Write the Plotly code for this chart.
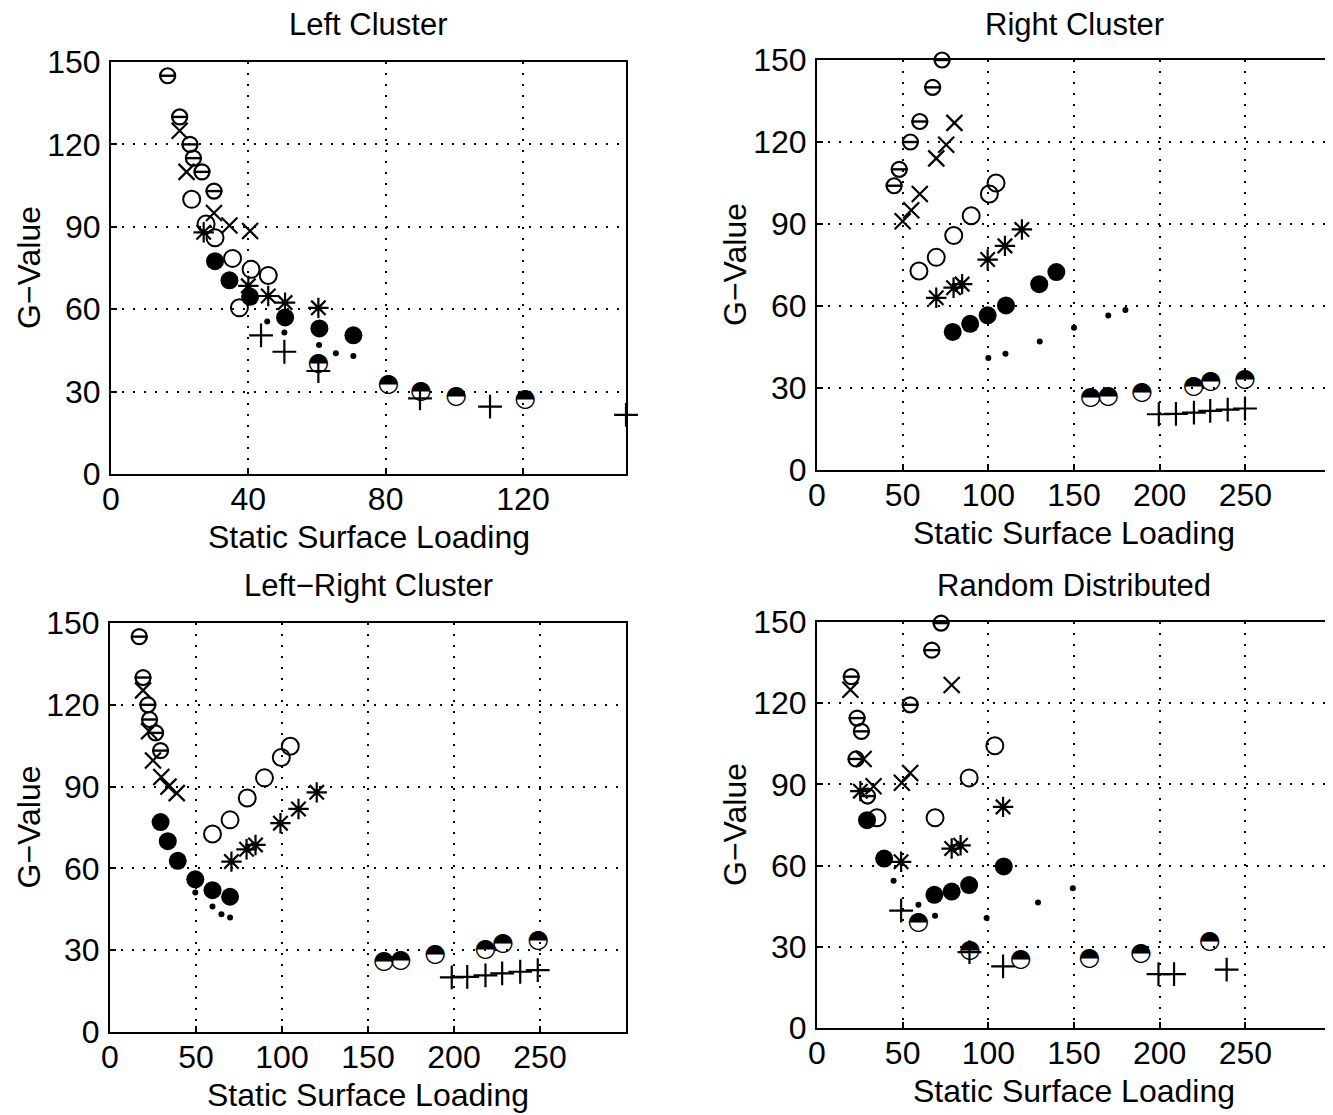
import plotly.graph_objects as go

W, H = 1333, 1115
OFF = 8  # the page body adds an 8 px margin around the figure

# ---------------- data ----------------
titles = ["Left Cluster", "Right Cluster", "Left\u2212Right Cluster", "Random Distributed"]
x_label = "Static Surface Loading"
y_label = "G\u2212Value"
x_ticks_left_cluster = [0, 40, 80, 120]
x_ticks_other = [0, 50, 100, 150, 200, 250]
y_ticks = [0, 30, 60, 90, 120, 150]

# Left Cluster
lc_theta_x = [16.5, 20, 23, 24, 26.5, 30]
lc_theta_y = [145, 130, 120, 115, 110, 103]
lc_x_x = [20, 22, 30, 34.5, 40.5]
lc_x_y = [125, 110, 95, 90.5, 88.5]
lc_open_x = [23.5, 27.7, 30.3, 35.4, 37.4, 40.8, 45.8]
lc_open_y = [100, 91, 86, 78.5, 60.5, 74.5, 72.3]
lc_star_x = [27, 40, 45.8, 50.7, 60.4]
lc_star_y = [88, 68.5, 64.8, 62.4, 60.5]
lc_fill_x = [30.3, 34.5, 40.5, 50.7, 60.7, 70.6]
lc_fill_y = [77.5, 70.5, 64.5, 57, 53, 50.5]
lc_dot_x = [45.5, 50.5, 60.6, 65.5, 70.6]
lc_dot_y = [55.5, 51.5, 47, 44, 43]
lc_plus_x = [43.7, 50.5, 60.4, 90, 110.4, 150]
lc_plus_y = [50.5, 44.5, 37.5, 27.5, 24.5, 21.5]
lc_half_x = [60.4, 80.8, 90.3, 100.5, 120.6]
lc_half_y = [40, 32.5, 30, 28, 27]

# Right Cluster
rc_theta_x = [45, 48, 54.5, 60, 67.5, 73]
rc_theta_y = [104, 110, 120, 127.5, 140, 150]
rc_x_x = [50, 55, 60, 69.6, 75.4, 80.2]
rc_x_y = [91, 95, 101, 114, 119, 127]
rc_open_x = [59.5, 69.6, 79.8, 90, 100.6, 104.5]
rc_open_y = [72.8, 77.8, 85.8, 93, 101, 105]
rc_star_x = [69.6, 79.7, 84.7, 99.6, 109.7, 119.6]
rc_star_y = [63, 66.7, 68, 77, 82, 88]
rc_fill_x = [79.2, 89.4, 99.6, 110.3, 129.7, 139.7]
rc_fill_y = [50.5, 53.5, 56.6, 60.2, 68, 72.4]
rc_dot_x = [100, 110, 130, 150, 170, 180]
rc_dot_y = [41, 42.5, 47, 52, 56.5, 58.5]
rc_plus_x = [199.5, 209.5, 220, 229.5, 239.7, 249.8]
rc_plus_y = [20.4, 20.5, 21, 21.6, 22.1, 22.5]
rc_half_x = [159.7, 170, 189.7, 219.8, 229.8, 249.8]
rc_half_y = [26.4, 26.8, 28.2, 30.4, 32.2, 33.1]

# Left-Right Cluster
lr_theta_x = [17, 19.2, 22, 23, 26.5, 29.4]
lr_theta_y = [145, 130, 120, 114.6, 109.7, 103.2]
lr_x_x = [19.2, 22.7, 25, 29.8, 34, 38.8]
lr_x_y = [125.3, 110.3, 99.6, 93.5, 90, 87.6]
lr_open_x = [59.6, 69.8, 79.8, 89.8, 99.6, 104.8]
lr_open_y = [72.6, 77.8, 85.8, 93.2, 100.7, 104.8]
lr_star_x = [70.6, 79.4, 84.6, 99.1, 109.6, 120.2]
lr_star_y = [62.5, 67, 68.6, 76.6, 81.8, 87.9]
lr_fill_x = [29.4, 33.6, 39.4, 49.6, 59.6, 69.8]
lr_fill_y = [77, 70, 62.8, 56, 52, 49.6]
lr_dot_x = [49.6, 59.6, 64.8, 69.8]
lr_dot_y = [51.2, 46, 43.2, 42]
lr_plus_x = [198.7, 207.7, 218.3, 228, 238.5, 248.7]
lr_plus_y = [20, 20.2, 20.8, 21.5, 22.1, 22.7]
lr_half_x = [159.3, 169, 189, 218.3, 228.5, 249]
lr_half_y = [25.7, 26.1, 28.2, 30, 32.5, 33.3]

# Random Distributed
rd_theta_x = [20, 23.4, 25.9, 22.8, 29.5, 54.4, 67, 72.4]
rd_theta_y = [129.8, 114.5, 109.6, 99.4, 85.7, 119.4, 139.6, 149.6]
rd_x_x = [19.5, 27.2, 33, 49.5, 54.4, 78.6]
rd_x_y = [125, 99.4, 89.3, 90.6, 94.2, 126.7]
rd_open_x = [35, 68.9, 88.8, 103.8]
rd_open_y = [77.7, 77.7, 92.4, 104.3]
rd_star_x = [25.3, 49.1, 78.6, 83.8, 108.6]
rd_star_y = [87.5, 61.4, 66.3, 67.5, 81.7]
rd_fill_x = [29.2, 39.2, 68.5, 78.6, 88.8, 109]
rd_fill_y = [76.8, 62.6, 49.2, 50.4, 52.8, 59.7]
rd_dot_x = [44.7, 59.2, 68.9, 99, 129, 149.3]
rd_dot_y = [54.4, 45.5, 41.5, 40.6, 46.4, 51.6]
rd_plus_x = [49.1, 89, 108.6, 199.3, 208.4, 239.1]
rd_plus_y = [43.4, 28, 22.8, 19.9, 19.9, 21.6]
rd_half_x = [59.2, 89.2, 118.9, 159, 189.1, 229.2]
rd_half_y = [38.9, 28.7, 25.4, 25.6, 27.5, 31.7]

panels = [
    dict(theta=(lc_theta_x, lc_theta_y), x=(lc_x_x, lc_x_y), open=(lc_open_x, lc_open_y),
         star=(lc_star_x, lc_star_y), fill=(lc_fill_x, lc_fill_y), dot=(lc_dot_x, lc_dot_y),
         plus=(lc_plus_x, lc_plus_y), half=(lc_half_x, lc_half_y)),
    dict(theta=(rc_theta_x, rc_theta_y), x=(rc_x_x, rc_x_y), open=(rc_open_x, rc_open_y),
         star=(rc_star_x, rc_star_y), fill=(rc_fill_x, rc_fill_y), dot=(rc_dot_x, rc_dot_y),
         plus=(rc_plus_x, rc_plus_y), half=(rc_half_x, rc_half_y)),
    dict(theta=(lr_theta_x, lr_theta_y), x=(lr_x_x, lr_x_y), open=(lr_open_x, lr_open_y),
         star=(lr_star_x, lr_star_y), fill=(lr_fill_x, lr_fill_y), dot=(lr_dot_x, lr_dot_y),
         plus=(lr_plus_x, lr_plus_y), half=(lr_half_x, lr_half_y)),
    dict(theta=(rd_theta_x, rd_theta_y), x=(rd_x_x, rd_x_y), open=(rd_open_x, rd_open_y),
         star=(rd_star_x, rd_star_y), fill=(rd_fill_x, rd_fill_y), dot=(rd_dot_x, rd_dot_y),
         plus=(rd_plus_x, rd_plus_y), half=(rd_half_x, rd_half_y)),
]

# ---------------- layout geometry (window pixels) ----------------
boxes = [  # left, right, top, bottom
    (111, 626, 62, 474),
    (817, 1331, 60, 470),
    (110, 626, 623, 1032),
    (817, 1331, 622, 1028),
]
title_y = [24, 24, 585, 585]
x_ranges = [[0, 150], [0, 300], [0, 300], [0, 300]]
x_tickvals = [x_ticks_left_cluster, x_ticks_other, x_ticks_other, x_ticks_other]

FONT = "Liberation Sans, Arial, sans-serif"
FS = 32
FS_TITLE = 31
BLACK = "black"
fig = go.Figure()


def px(v):
    return (v - OFF) / W


def py(v):
    return 1 - (v - OFF) / H


def add_panel(i, d):
    xa = "x" if i == 0 else f"x{i+1}"
    ya = "y" if i == 0 else f"y{i+1}"
    common = dict(xaxis=xa, yaxis=ya, showlegend=False, cliponaxis=False, hoverinfo="x+y")
    fig.add_trace(go.Scatter(x=d["open"][0], y=d["open"][1], mode="markers",
                             marker=dict(symbol="circle-open", size=17, color=BLACK,
                                         line=dict(width=2, color=BLACK)), **common))
    fig.add_trace(go.Scatter(x=d["x"][0], y=d["x"][1], mode="markers",
                             marker=dict(symbol="x-thin-open", size=16, color=BLACK,
                                         line=dict(width=2.2, color=BLACK)), **common))
    fig.add_trace(go.Scatter(x=d["star"][0], y=d["star"][1], mode="markers",
                             marker=dict(symbol="asterisk-open", size=17, color=BLACK,
                                         line=dict(width=2.2, color=BLACK)), **common))
    fig.add_trace(go.Scatter(x=d["fill"][0], y=d["fill"][1], mode="markers",
                             marker=dict(symbol="circle", size=18, color=BLACK,
                                         line=dict(width=0)), **common))
    fig.add_trace(go.Scatter(x=d["dot"][0], y=d["dot"][1], mode="markers",
                             marker=dict(symbol="circle", size=6, color=BLACK,
                                         line=dict(width=0)), **common))
    fig.add_trace(go.Scatter(x=d["plus"][0], y=d["plus"][1], mode="markers",
                             marker=dict(symbol="cross-thin-open", size=17, color=BLACK,
                                         line=dict(width=2.2, color=BLACK)), **common))
    # theta: circle with a horizontal bar
    fig.add_trace(go.Scatter(x=d["theta"][0], y=d["theta"][1], mode="markers",
                             marker=dict(symbol="circle-open", size=15, color=BLACK,
                                         line=dict(width=2.2, color=BLACK)), **common))
    fig.add_trace(go.Scatter(x=d["theta"][0], y=d["theta"][1], mode="markers",
                             marker=dict(symbol="line-ew-open", size=12, color=BLACK,
                                         line=dict(width=2.4, color=BLACK)), **common))
    # half filled circle (upper half black)
    fig.add_trace(go.Scatter(x=d["half"][0], y=d["half"][1], mode="text",
                             text=["\u25D3"] * len(d["half"][0]),
                             textposition="middle center",
                             textfont=dict(family="DejaVu Sans", size=25, color=BLACK),
                             **common))


for i, d in enumerate(panels):
    add_panel(i, d)

layout = dict(width=W, height=H, margin=dict(l=0, r=0, t=0, b=0, autoexpand=False),
              paper_bgcolor="white", plot_bgcolor="white", template="none",
              font=dict(family=FONT, color=BLACK))

for i, (l, r, t, b) in enumerate(boxes):
    xk = "xaxis" if i == 0 else f"xaxis{i+1}"
    yk = "yaxis" if i == 0 else f"yaxis{i+1}"
    ya = "y" if i == 0 else f"y{i+1}"
    xa = "x" if i == 0 else f"x{i+1}"
    axis_common = dict(showline=True, mirror=True, linecolor=BLACK, linewidth=2,
                       ticks="inside", ticklen=6, tickwidth=1.5, tickcolor=BLACK,
                       showgrid=True, gridcolor=BLACK, gridwidth=1.5, griddash="2px,9px",
                       zeroline=False, automargin=False,
                       tickfont=dict(size=FS, family=FONT, color=BLACK), fixedrange=True)
    layout[xk] = dict(domain=[px(l), px(r)], range=x_ranges[i], anchor=ya,
                      tickmode="array", tickvals=x_tickvals[i],
                      ticktext=[str(v) for v in x_tickvals[i]], ticklabelstandoff=-4,
                      **axis_common)
    layout[yk] = dict(domain=[py(b), py(t)], range=[0, 150], anchor=xa,
                      tickmode="array", tickvals=y_ticks,
                      ticktext=[str(v) for v in y_ticks], ticklabelstandoff=2,
                      **axis_common)

annotations = []
for i, (l, r, t, b) in enumerate(boxes):
    cx = px((l + r) / 2)
    annotations.append(dict(text=titles[i], x=cx, y=py(title_y[i]), xref="paper", yref="paper",
                            showarrow=False, xanchor="center", yanchor="middle",
                            font=dict(size=FS_TITLE, family=FONT, color=BLACK)))
    annotations.append(dict(text=x_label, x=cx, y=py(b + 63), xref="paper", yref="paper",
                            showarrow=False, xanchor="center", yanchor="middle",
                            font=dict(size=FS, family=FONT, color=BLACK)))
    annotations.append(dict(text=y_label, x=px(l - 82), y=py((t + b) / 2),
                            xref="paper", yref="paper", textangle=-90,
                            showarrow=False, xanchor="center", yanchor="middle",
                            font=dict(size=FS, family=FONT, color=BLACK)))
layout["annotations"] = annotations

fig.update_layout(**layout)
fig.write_html("out.html")
